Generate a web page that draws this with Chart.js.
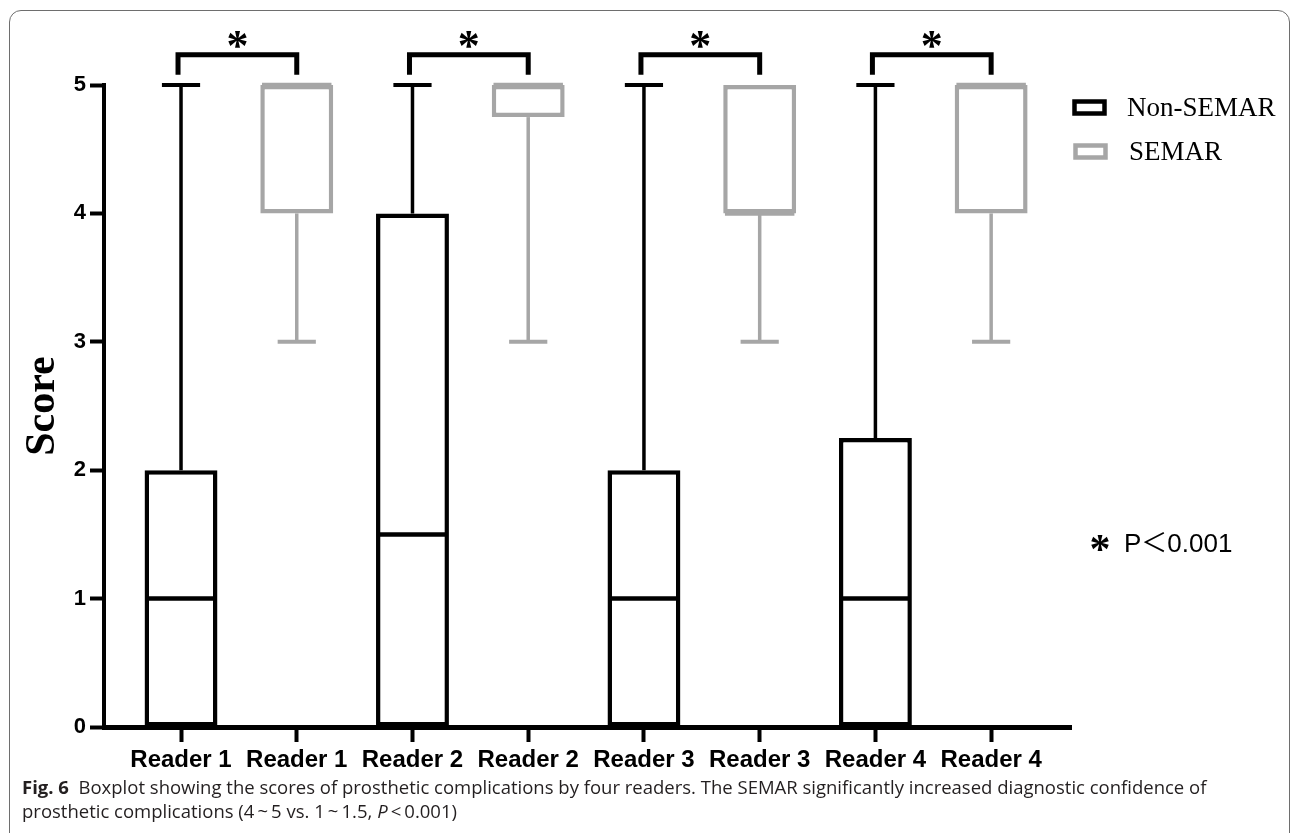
<!DOCTYPE html>
<html>
<head>
<meta charset="utf-8">
<script src="https://cdn.jsdelivr.net/npm/chart.js@4.4.0/dist/chart.umd.min.js"></script>
<style>
  html, body { margin: 0; padding: 0; background: #fff; }
  body { width: 1293px; height: 833px; overflow: hidden; position: relative; }
  #frame { position: absolute; left: 9px; top: 10px; width: 1281px; height: 900px;
           border: 1.5px solid #6e6e6e; border-radius: 12px; box-sizing: border-box; }
  #wrap { position: absolute; left: 0; top: 0; width: 1293px; height: 833px; }
  #caption { position: absolute; left: 22px; top: 775px; font-family: "Open Sans"; font-size: 18.5px;
             line-height: 24px; color: #231f20; white-space: nowrap; }
  #caption b { font-weight: 700; }
</style>
</head>
<body>
<div id="frame"></div>
<div id="wrap"><canvas id="chart" width="1293" height="833"></canvas></div>
<div id="caption"><b>Fig. 6</b>&nbsp; Boxplot showing the scores of prosthetic complications by four readers. The SEMAR significantly increased diagnostic confidence of<br>prosthetic complications (4&thinsp;~&thinsp;5 vs. 1&thinsp;~&thinsp;1.5, <i>P</i>&thinsp;&lt;&thinsp;0.001)</div>
<script>
// categories on the x axis
var readers = ['Reader 1', 'Reader 1', 'Reader 2', 'Reader 2', 'Reader 3', 'Reader 3', 'Reader 4', 'Reader 4'];
var groups = ['Non-SEMAR', 'SEMAR'];

// which category slot each box sits in
var nonPos = [0, 2, 4, 6];
var semarPos = [1, 3, 5, 7];

// Non-SEMAR boxes (reader 1..4)
var nonMin = [0, 0, 0, 0];
var nonQ1 = [0, 0, 0, 0];
var nonMedian = [1, 1.5, 1, 1];
var nonQ3 = [2, 4, 2, 2.25];
var nonMax = [5, 5, 5, 5];

// SEMAR boxes (reader 1..4)
var semarMin = [3, 3, 3, 3];
var semarQ1 = [4, 4.75, 4, 4];
var semarMedian = [5, 5, 4, 5];
var semarQ3 = [5, 5, 5, 5];
var semarMax = [5, 5, 5, 5];

var yTicks = [0, 1, 2, 3, 4, 5];

// significance brackets between the two boxes of each reader
var pairs = [[0, 1], [2, 3], [4, 5], [6, 7]];
var pairMark = '*';
var noteText = 'P＜0.001';

var nonColor = '#000000';
var semarColor = '#a6a6a6';

function boxData(pos, q1, q3) {
    var out = [];
    for (var i = 0; i < pos.length; i++) {
        out.push({ x: pos[i], y: [q1[i], q3[i]] });
    }
    return out;
}

function line(ctx, x1, y1, x2, y2) {
    ctx.beginPath();
    ctx.moveTo(x1, y1);
    ctx.lineTo(x2, y2);
    ctx.stroke();
}

function drawWhiskers(chart, pos, mins, q1, q3, maxs, color) {
    var ctx = chart.ctx, xs = chart.scales.x, ys = chart.scales.y;
    ctx.strokeStyle = color;
    for (var i = 0; i < pos.length; i++) {
        var cx = xs.getPixelForValue(pos[i]);
        var capL = xs.getPixelForValue(pos[i] - 0.165);
        var capR = xs.getPixelForValue(pos[i] + 0.165);
        if (maxs[i] > q3[i]) {
            ctx.lineWidth = 3.5;
            line(ctx, cx, ys.getPixelForValue(q3[i]), cx, ys.getPixelForValue(maxs[i]));
            ctx.lineWidth = 4;
            line(ctx, capL, ys.getPixelForValue(maxs[i]), capR, ys.getPixelForValue(maxs[i]));
        }
        if (mins[i] < q1[i]) {
            ctx.lineWidth = 3.5;
            line(ctx, cx, ys.getPixelForValue(q1[i]), cx, ys.getPixelForValue(mins[i]));
            ctx.lineWidth = 4;
            line(ctx, capL, ys.getPixelForValue(mins[i]), capR, ys.getPixelForValue(mins[i]));
        }
    }
}

function drawMedians(chart, pos, med, color) {
    var ctx = chart.ctx, xs = chart.scales.x, ys = chart.scales.y;
    ctx.strokeStyle = color;
    ctx.lineWidth = 4.5;
    for (var i = 0; i < pos.length; i++) {
        var y = ys.getPixelForValue(med[i]);
        line(ctx, xs.getPixelForValue(pos[i] - 0.3), y, xs.getPixelForValue(pos[i] + 0.3), y);
    }
}

function centeredText(ctx, txt, x, y) {
    var m = ctx.measureText(txt);
    var h = m.actualBoundingBoxAscent + m.actualBoundingBoxDescent;
    var w = m.actualBoundingBoxLeft + m.actualBoundingBoxRight;
    ctx.textBaseline = 'alphabetic';
    ctx.textAlign = 'left';
    ctx.fillText(txt, x - w / 2 + m.actualBoundingBoxLeft, y - h / 2 + m.actualBoundingBoxAscent);
}

var boxPlugin = {
    id: 'boxParts',
    beforeDatasetsDraw: function (chart) {
        var ctx = chart.ctx;
        ctx.save();
        ctx.lineCap = 'butt';
        drawWhiskers(chart, nonPos, nonMin, nonQ1, nonQ3, nonMax, nonColor);
        drawWhiskers(chart, semarPos, semarMin, semarQ1, semarQ3, semarMax, semarColor);
        ctx.restore();
    },
    afterDatasetsDraw: function (chart) {
        var ctx = chart.ctx, xs = chart.scales.x, ys = chart.scales.y;
        ctx.save();
        drawMedians(chart, nonPos, nonMedian, nonColor);
        drawMedians(chart, semarPos, semarMedian, semarColor);

        // brackets + stars
        ctx.strokeStyle = '#000';
        ctx.fillStyle = '#000';
        ctx.lineWidth = 5;
        ctx.lineJoin = 'miter';
        ctx.font = 'bold 44px "Liberation Serif"';
        pairs.forEach(function (p) {
            var x1 = xs.getPixelForValue(p[0]) - 3;
            var x2 = xs.getPixelForValue(p[1]);
            var top = ys.getPixelForValue(5.235);
            var leg = ys.getPixelForValue(5.08);
            ctx.beginPath();
            ctx.moveTo(x1, leg);
            ctx.lineTo(x1, top);
            ctx.lineTo(x2, top);
            ctx.lineTo(x2, leg);
            ctx.stroke();
            centeredText(ctx, pairMark, (x1 + x2) / 2, ys.getPixelForValue(5.355));
        });

        // legend
        ctx.lineWidth = 4.5;
        ctx.strokeStyle = nonColor;
        ctx.strokeRect(1074.5, 101.5, 30, 12);
        ctx.strokeStyle = semarColor;
        ctx.strokeRect(1075.5, 145.5, 30, 12);
        ctx.fillStyle = '#000';
        ctx.font = '27px "Liberation Serif"';
        ctx.textAlign = 'left';
        ctx.textBaseline = 'alphabetic';
        ctx.fillText(groups[0], 1127, 116);
        ctx.fillText(groups[1], 1129, 160);

        // p-value note
        ctx.font = 'bold 42px "Liberation Serif"';
        centeredText(ctx, pairMark, 1100, 543);
        ctx.font = '26px "Liberation Sans", "Noto Sans CJK JP"';
        ctx.textAlign = 'left';
        ctx.textBaseline = 'alphabetic';
        ctx.fillText(noteText, 1124, 552);
        ctx.restore();
    }
};

var ctx = document.getElementById('chart').getContext('2d');
var chart = new Chart(ctx, {
    type: 'bar',
    data: {
        datasets: [
            {
                label: groups[0],
                data: boxData(nonPos, nonQ1, nonQ3),
                backgroundColor: '#ffffff',
                borderColor: nonColor,
                borderWidth: 4.5,
                borderSkipped: false,
                grouped: false,
                barPercentage: 1,
                categoryPercentage: 0.63
            },
            {
                label: groups[1],
                data: boxData(semarPos, semarQ1, semarQ3),
                backgroundColor: '#ffffff',
                borderColor: semarColor,
                borderWidth: 4.5,
                borderSkipped: false,
                grouped: false,
                barPercentage: 1,
                categoryPercentage: 0.63
            }
        ]
    },
    options: {
        responsive: false,
        animation: false,
        devicePixelRatio: 1,
        layout: { padding: { left: 0, right: 222, top: 85, bottom: 0 } },
        plugins: {
            legend: { display: false },
            tooltip: { enabled: false }
        },
        scales: {
            x: {
                type: 'linear',
                offset: false,
                min: -0.6655,
                max: 7.69,
                afterBuildTicks: function (axis) {
                    axis.ticks = readers.map(function (r, i) { return { value: i }; });
                },
                afterFit: function (scale) { scale.height = 106; },
                ticks: {
                    autoSkip: false,
                    maxRotation: 0,
                    padding: 4,
                    color: '#000',
                    font: { family: 'Liberation Sans', size: 24, weight: 'bold' },
                    callback: function (v) { return readers[v]; }
                },
                grid: { offset: false, drawOnChartArea: false, drawTicks: true, tickLength: 15, tickWidth: 4, tickColor: '#000', color: '#000' },
                border: { display: true, color: '#000', width: 5 }
            },
            y: {
                min: 0,
                max: 5,
                afterBuildTicks: function (axis) {
                    axis.ticks = yTicks.map(function (v) { return { value: v }; });
                },
                afterFit: function (scale) { scale.width = 104; },
                ticks: {
                    padding: 4,
                    color: '#000',
                    font: { family: 'Liberation Sans', size: 22, weight: 'bold' }
                },
                grid: { drawOnChartArea: false, drawTicks: true, tickLength: 14, tickWidth: 4, tickColor: '#000', color: '#000' },
                border: { display: true, color: '#000', width: 4 },
                title: {
                    display: true,
                    text: 'Score',
                    color: '#000',
                    font: { family: 'Liberation Serif', size: 42, weight: 'bold' },
                    padding: { top: 18, bottom: 0 }
                }
            }
        }
    },
    plugins: [boxPlugin]
});
</script>
</body>
</html>
